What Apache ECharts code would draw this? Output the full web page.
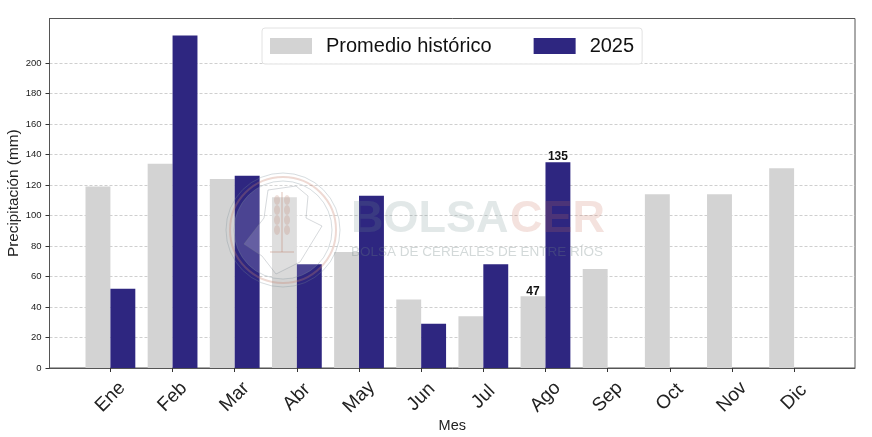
<!DOCTYPE html>
<html><head><meta charset="utf-8">
<script src="https://cdn.jsdelivr.net/npm/echarts@6/dist/echarts.min.js"></script>
<style>html,body{margin:0;padding:0;background:#fff}#c{width:872px;height:437px}</style></head>
<body><div id="c"></div>
<script>
const months = ['Ene','Feb','Mar','Abr','May','Jun','Jul','Ago','Sep','Oct','Nov','Dic'];
const historico = [119,134,124,112,76,45,34,47,65,114,114,131];
const actual = [52,218,126,68,113,29,68,135];
const yTicks = [0,20,40,60,80,100,120,140,160,180,200];
const xTicks = months.map((m,i)=>i);
const labelled = {hist:[7], act:[7]};
const FONT = '"Liberation Sans", Arial, sans-serif';
const chart = echarts.init(document.getElementById('c'), null, {renderer:'canvas'});
const lab = (idx)=>({show:true,position:'top',distance:-1,fontFamily:FONT,fontWeight:'bold',fontSize:12,color:'#111',
  formatter:p=>idx.includes(p.dataIndex)?String(p.value[1]):''});
const grain = 'rgba(190,130,110,0.25)';
const sealParts = [];
[[282,196],[282,206],[282,216],[282,226]].forEach(([x,y])=>{
  sealParts.push({type:'ellipse',shape:{cx:x-5,cy:y+4,rx:3,ry:5},style:{fill:grain}});
  sealParts.push({type:'ellipse',shape:{cx:x+5,cy:y+4,rx:3,ry:5},style:{fill:grain}});
});
const watermark = [
  {type:'circle',shape:{cx:283,cy:230,r:57},style:{fill:'none',stroke:'rgba(120,140,150,0.3)',lineWidth:1}},
  {type:'circle',shape:{cx:283,cy:230,r:53},style:{fill:'none',stroke:'rgba(200,130,110,0.3)',lineWidth:2}},
  {type:'circle',shape:{cx:283,cy:230,r:49},style:{fill:'rgba(255,255,255,0.14)',stroke:'rgba(120,140,150,0.3)',lineWidth:1}},
  {type:'polygon',shape:{points:[[268,190],[296,186],[308,196],[306,218],[322,226],[300,262],[276,274],[262,256],[244,244],[264,218]]},style:{fill:'rgba(255,255,255,0.15)',stroke:'rgba(120,130,140,0.3)',lineWidth:1}},
  {type:'line',shape:{x1:282,y1:192,x2:282,y2:252},style:{stroke:grain,lineWidth:2}},
  {type:'line',shape:{x1:270,y1:252,x2:294,y2:252},style:{stroke:grain,lineWidth:2}},
  ...sealParts,
  {type:'text',style:{x:351,y:220,text:'BOLSA',font:'bold 45px '+FONT,fill:'rgba(110,140,140,0.2)',textVerticalAlign:'middle'}},
  {type:'text',style:{x:510,y:220,text:'CER',font:'bold 45px '+FONT,fill:'rgba(200,110,90,0.2)',textVerticalAlign:'middle'}},
  {type:'text',style:{x:351,y:252,text:'BOLSA DE CEREALES DE ENTRE RÍOS',font:'13.5px '+FONT,fill:'rgba(110,130,130,0.3)',textVerticalAlign:'middle'}}
].map(e=>Object.assign(e,{z:10,silent:true}));
chart.setOption({
  animation:false,
  backgroundColor:'#fff',
  textStyle:{fontFamily:FONT},
  grid:{left:49.5,top:18.5,right:17,bottom:69,show:true,borderColor:'#555',borderWidth:1,backgroundColor:'transparent',outerBoundsMode:'none'},
  legend:{left:262,top:28,padding:[8,8,8,8],itemGap:42,itemWidth:42,itemHeight:16,
    backgroundColor:'rgba(255,255,255,0.85)',borderColor:'#e2e2e2',borderWidth:1,borderRadius:3,
    textStyle:{fontFamily:FONT,fontSize:20,color:'#111',padding:[0,0,0,9]},
    icon:'rect',data:['Promedio histórico','2025'],z:20},
  xAxis:{type:'value',min:-0.98,max:11.98,
    axisLine:{show:true,onZero:false,lineStyle:{color:'#555'}},
    axisTick:{show:true,customValues:xTicks,length:4,lineStyle:{color:'#333'}},
    axisLabel:{customValues:xTicks,formatter:v=>months[Math.round(v)],rotate:45,align:'center',verticalAlign:'middle',fontSize:19,color:'#222',margin:29,fontFamily:FONT},
    splitLine:{show:false},
    name:'Mes',nameLocation:'middle',nameGap:50,nameMoveOverlap:false,nameTextStyle:{fontSize:14.5,color:'#222',fontFamily:FONT}},
  yAxis:{type:'value',min:0,max:229.2,
    axisLine:{show:true,onZero:false,lineStyle:{color:'#555'}},
    axisTick:{show:true,customValues:yTicks,length:4,lineStyle:{color:'#333'}},
    axisLabel:{customValues:yTicks,fontSize:9.5,color:'#222',margin:8,fontFamily:FONT},
    splitLine:{show:true,lineStyle:{type:[3,2],color:'#cfcfcf',width:1}},
    name:'Precipitación (mm)',nameLocation:'middle',nameGap:28,nameMoveOverlap:false,nameTextStyle:{fontSize:15.3,color:'#222',fontFamily:FONT}},
  series:[
   {name:'Promedio histórico',type:'bar',barWidth:24.9,barGap:'0%',itemStyle:{color:'#d3d3d3'},
    data:historico.map((v,i)=>[i,v]),label:lab(labelled.hist),z:2},
   {name:'2025',type:'bar',barWidth:24.9,barGap:'0%',itemStyle:{color:'#2e2680'},
    data:actual.map((v,i)=>[i,v]),label:lab(labelled.act),z:3}
  ],
  graphic:{elements:watermark}
});
</script></body></html>
